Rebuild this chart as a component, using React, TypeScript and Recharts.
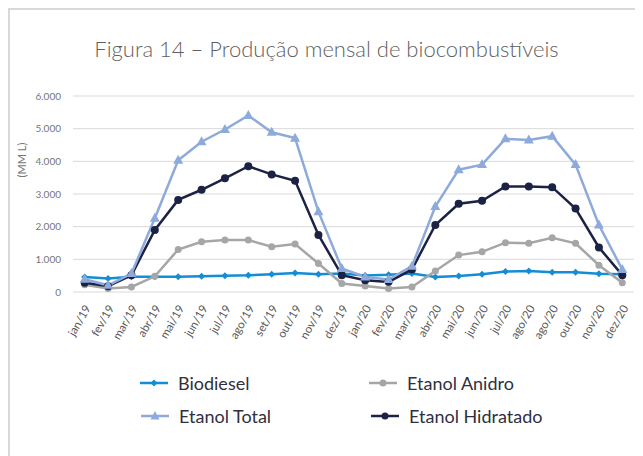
import { CartesianGrid, Line, LineChart, XAxis, YAxis } from 'recharts';

const months = [
  'jan/19', 'fev/19', 'mar/19', 'abr/19', 'mai/19', 'jun/19', 'jul/19', 'ago/19',
  'set/19', 'out/19', 'nov/19', 'dez/19', 'jan/20', 'fev/20', 'mar/20', 'abr/20',
  'mai/20', 'jun/20', 'jul/20', 'ago/20', 'ago/20', 'out/20', 'nov/20', 'dez/20',
];

const biodiesel = [
  460, 410, 465, 470, 465, 480, 500, 510, 545, 580, 545, 565,
  505, 525, 565, 460, 490, 545, 625, 645, 605, 605, 555, 545,
];

const etanolAnidro = [
  220, 105, 155, 480, 1300, 1540, 1590, 1590, 1385, 1470, 870, 260,
  185, 105, 155, 645, 1130, 1230, 1510, 1490, 1660, 1490, 820, 280,
];

const etanolTotal = [
  390, 205, 565, 2260, 4030, 4600, 4975, 5405, 4890, 4710, 2460, 720,
  460, 380, 790, 2615, 3745, 3900, 4690, 4650, 4770, 3900, 2050, 690,
];

const etanolHidratado = [
  280, 175, 515, 1900, 2820, 3130, 3480, 3850, 3600, 3405, 1745, 515,
  360, 310, 690, 2050, 2700, 2790, 3230, 3230, 3210, 2555, 1365, 515,
];

const yTicks = [0, 1000, 2000, 3000, 4000, 5000, 6000];

const COLORS = {
  biodiesel: '#138dd5',
  anidro: '#a6a6a6',
  total: '#8eaadb',
  hidratado: '#1c2244',
};

const FONT = 'Lato, "Open Sans", sans-serif';

const data = months.map((month, i) => ({
  month,
  biodiesel: biodiesel[i],
  anidro: etanolAnidro[i],
  total: etanolTotal[i],
  hidratado: etanolHidratado[i],
}));

const formatThousands = (v: number) =>
  String(v).replace(/\B(?=(\d{3})+(?!\d))/g, '.');

type DotProps = { cx?: number; cy?: number; index?: number };

const diamondDot = (color: string) => (props: DotProps) => {
  const { cx = 0, cy = 0, index } = props;
  const r = 3.5;
  return (
    <polygon
      key={`d-${index}`}
      points={`${cx},${cy - r} ${cx + r},${cy} ${cx},${cy + r} ${cx - r},${cy}`}
      fill={color}
    />
  );
};

const triangleDot = (color: string) => (props: DotProps) => {
  const { cx = 0, cy = 0, index } = props;
  return (
    <polygon
      key={`t-${index}`}
      points={`${cx},${cy - 5.5} ${cx + 5},${cy + 3.5} ${cx - 5},${cy + 3.5}`}
      fill={color}
    />
  );
};

const XTick = ({ x = 0, y = 0, payload }: { x?: number; y?: number; payload?: { value: string } }) => (
  <text
    x={x + 3}
    y={y + 6}
    transform={`rotate(-60, ${x + 3}, ${y + 6})`}
    textAnchor="end"
    dy="0.35em"
    fontSize={11.5}
    fontFamily={FONT}
    fill="#595959"
  >
    {payload?.value}
  </text>
);

const LegendIcon = ({ color, shape }: { color: string; shape: 'diamond' | 'circle' | 'triangle' }) => (
  <svg width={28} height={12} style={{ display: 'block' }}>
    <line x1={0} y1={6} x2={28} y2={6} stroke={color} strokeWidth={2.5} />
    {shape === 'diamond' && <polygon points="14,2.5 17.5,6 14,9.5 10.5,6" fill={color} />}
    {shape === 'circle' && <circle cx={14} cy={6} r={3.5} fill={color} />}
    {shape === 'triangle' && <polygon points="14,1 18.5,9.5 9.5,9.5" fill={color} />}
  </svg>
);

const legendItems = [
  { label: 'Biodiesel', color: COLORS.biodiesel, shape: 'diamond' as const, left: 130, top: 362 },
  { label: 'Etanol Anidro', color: COLORS.anidro, shape: 'circle' as const, left: 359, top: 362 },
  { label: 'Etanol Total', color: COLORS.total, shape: 'triangle' as const, left: 131, top: 395 },
  { label: 'Etanol Hidratado', color: COLORS.hidratado, shape: 'circle' as const, left: 361, top: 395 },
];

export default function App() {
  return (
    <div
      style={{
        position: 'relative',
        width: 635,
        height: 448,
        borderTop: '2px solid #d9d9d9',
        borderLeft: '2px solid #d9d9d9',
        boxSizing: 'border-box',
        background: '#fff',
        fontFamily: FONT,
      }}
    >
      <div
        style={{
          position: 'absolute',
          top: 25,
          left: 0,
          width: 633,
          textAlign: 'center',
          fontSize: 22,
          fontWeight: 300,
          color: '#5f5f5f',
        }}
      >
        Figura 14 – Produção mensal de biocombustíveis
      </div>

      <LineChart
        width={633}
        height={446}
        data={data}
        margin={{ top: 86, right: 9, bottom: 114, left: 0 }}
      >
        <CartesianGrid vertical={false} stroke="#d9d9d9" strokeWidth={1} />
        <XAxis
          dataKey="month"
          allowDuplicatedCategory
          interval={0}
          height={50}
          padding={{ left: 11.7, right: 11.7 }}
          axisLine={false}
          tickLine={false}
          tick={<XTick />}
        />
        <YAxis
          width={63}
          domain={[0, 6000]}
          ticks={yTicks}
          axisLine={false}
          tickLine={false}
          tickMargin={6}
          tickFormatter={formatThousands}
          tick={{ fontSize: 10, fill: '#767676', fontFamily: FONT }}
          label={{
            content: () => (
              <text
                x={16}
                y={150}
                transform="rotate(-90, 16, 150)"
                textAnchor="middle"
                fontSize={11}
                fontFamily={FONT}
                fill="#767676"
              >
                (MM L)
              </text>
            ),
          }}
        />
        <Line
          dataKey="biodiesel"
          stroke={COLORS.biodiesel}
          strokeWidth={2.5}
          dot={diamondDot(COLORS.biodiesel)}
          isAnimationActive={false}
        />
        <Line
          dataKey="anidro"
          stroke={COLORS.anidro}
          strokeWidth={2.5}
          dot={{ r: 3.5, fill: COLORS.anidro, stroke: 'none' }}
          isAnimationActive={false}
        />
        <Line
          dataKey="hidratado"
          stroke={COLORS.hidratado}
          strokeWidth={2.5}
          dot={{ r: 4, fill: COLORS.hidratado, stroke: 'none' }}
          isAnimationActive={false}
        />
        <Line
          dataKey="total"
          stroke={COLORS.total}
          strokeWidth={2.5}
          dot={triangleDot(COLORS.total)}
          isAnimationActive={false}
        />
      </LineChart>

      {legendItems.map((item) => (
        <div
          key={item.label}
          style={{
            position: 'absolute',
            left: item.left,
            top: item.top,
            display: 'flex',
            alignItems: 'center',
            gap: 10,
            fontSize: 18,
            color: '#2f2f3f',
          }}
        >
          <LegendIcon color={item.color} shape={item.shape} />
          <span>{item.label}</span>
        </div>
      ))}
    </div>
  );
}
